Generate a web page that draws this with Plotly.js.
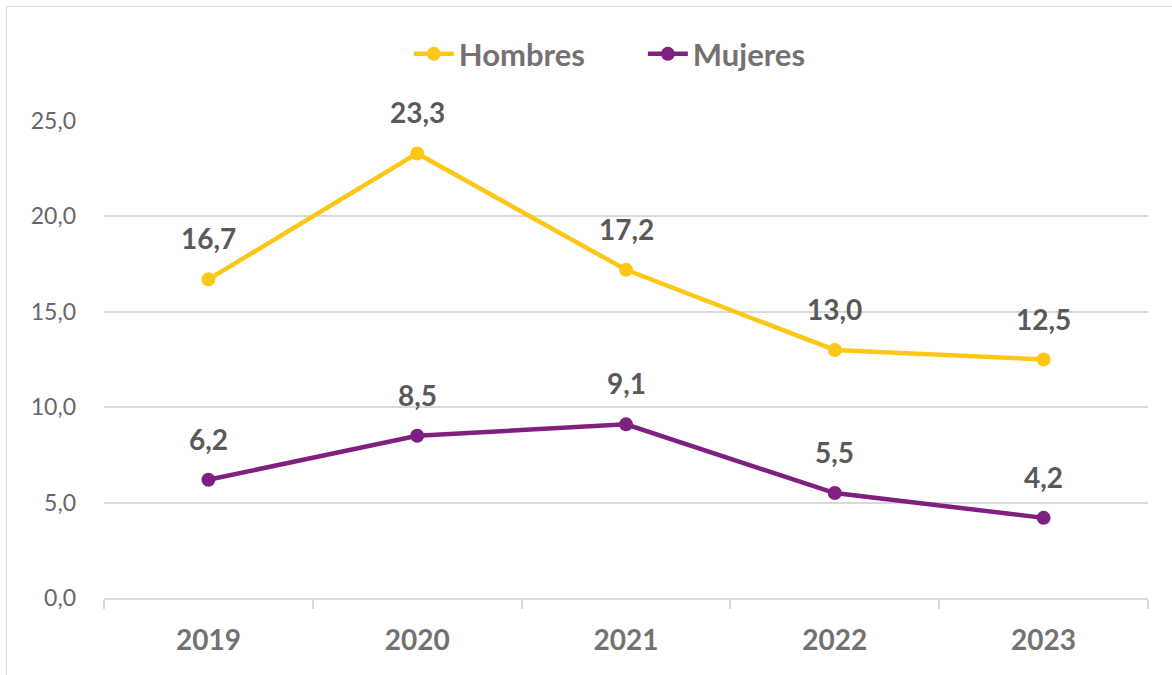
<!DOCTYPE html>
<html>
<head>
<meta charset="utf-8">
<script src="https://cdn.plot.ly/plotly-3.0.1.min.js"></script>
<style>
html,body{margin:0;padding:0;background:#fff;}
#frame{position:absolute;left:6px;top:6px;width:1172px;height:675px;border:1.5px solid #d9d9d9;box-sizing:border-box;}
#chart{position:absolute;left:0;top:0;width:1172px;height:675px;}
</style>
</head>
<body>
<div id="frame"></div>
<div id="chart"></div>
<script>
const years = ['2019', '2020', '2021', '2022', '2023'];
const hombres = [16.7, 23.3, 17.2, 13.0, 12.5];
const mujeres = [6.2, 8.5, 9.1, 5.5, 4.2];
const yTicks = [0, 5, 10, 15, 20, 25];

const colH = '#FDC718';
const colM = '#7F2081';
const fontFam = 'Lato, "Open Sans", sans-serif';
function fmt(v) { return v.toFixed(1).replace('.', ','); }

const traces = [
  {x: years, y: hombres, name: 'Hombres', type: 'scatter', mode: 'lines+markers',
   line: {color: colH, width: 4.5}, marker: {color: colH, size: 14}},
  {x: years, y: mujeres, name: 'Mujeres', type: 'scatter', mode: 'lines+markers',
   line: {color: colM, width: 4.5}, marker: {color: colM, size: 14}}
];

const annotations = [];
const series = [hombres, mujeres];
for (let s = 0; s < series.length; s++) {
  for (let i = 0; i < years.length; i++) {
    annotations.push({
      x: i, y: series[s][i], xref: 'x', yref: 'y',
      text: '<b>' + fmt(series[s][i]) + '</b>',
      showarrow: false, yanchor: 'bottom', yshift: 22,
      font: {family: fontFam, size: 28, color: '#595959'}
    });
  }
}

const layout = {
  width: 1172, height: 675,
  margin: {l: 104, r: 24, t: 121, b: 77},
  paper_bgcolor: 'rgba(0,0,0,0)', plot_bgcolor: 'rgba(0,0,0,0)',
  separators: ',.',
  showlegend: true,
  legend: {orientation: 'h', x: 0.292, xanchor: 'left', y: 1.14, yanchor: 'middle',
    entrywidth: 179, entrywidthmode: 'pixels', itemwidth: 40,
    font: {family: fontFam, size: 31, color: '#767171', weight: 'bold'},
    traceorder: 'normal'},
  xaxis: {type: 'category', range: [-0.5, 4.5], tickson: 'boundaries', ticks: 'outside',
    ticklen: 9, tickcolor: '#d9d9d9', tickwidth: 1.5, showline: true, linecolor: '#d9d9d9',
    linewidth: 1.5, showgrid: false, zeroline: false, ticklabelstandoff: 17,
    tickfont: {family: fontFam, size: 28, color: '#767171', weight: 'bold'}},
  yaxis: {range: [0, 25], tickvals: yTicks, tickformat: '.1f', showgrid: true,
    gridcolor: '#d9d9d9', gridwidth: 1.5, zeroline: false, showline: false, ticks: '',
    ticklabelstandoff: 27,
    tickfont: {family: fontFam, size: 23, color: '#666666'}},
  annotations: annotations,
  font: {family: fontFam}
};

Plotly.newPlot('chart', traces, layout, {displayModeBar: false});
</script>
</body>
</html>
